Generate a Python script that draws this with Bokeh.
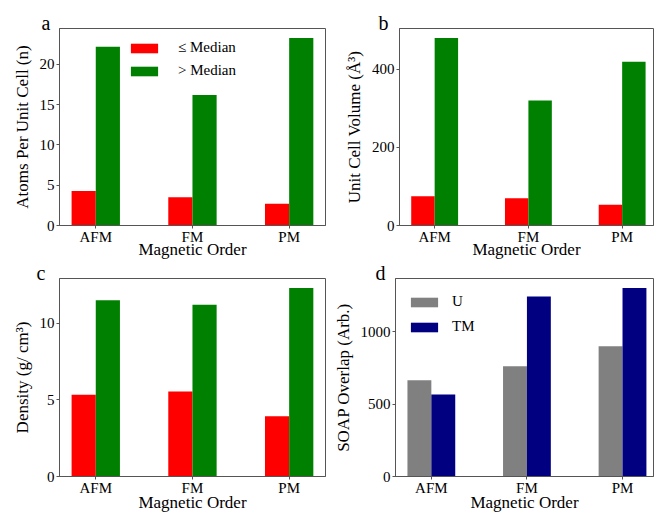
from bokeh.plotting import figure
from bokeh.layouts import column, row
from bokeh.models import FixedTicker, Legend, LegendItem, Range1d, Title
from bokeh.embed import file_html
from bokeh.resources import INLINE

# ---- data ----
categories = ["AFM", "FM", "PM"]
atoms_low = [4.3, 3.5, 2.7]
atoms_high = [22.2, 16.2, 23.3]
volume_low = [75, 70, 53]
volume_high = [480, 320, 419]
density_low = [5.33, 5.55, 3.93]
density_high = [11.5, 11.2, 12.3]
soap_u = [665, 762, 900]
soap_tm = [566, 1243, 1302]

median_labels = ["\u2264 Median", "> Median"]
soap_labels = ["U", "TM"]

atoms_ticks = [0, 5, 10, 15, 20]
volume_ticks = [0, 200, 400]
density_ticks = [0, 5, 10]
soap_ticks = [0, 500, 1000]

FONT = "Liberation Serif"
PX_PER_CAT = 96.7
BAR_W = 0.25
FRAME_COL = "#555555"


def make_panel(letter, letter_dx, low, high, colors, ylabel, yticks,
               w, h, bl, br, bt, bb, xlabel_standoff=-6, legend_labels=None,
               legend_loc=None, legend_standoff=17, legend_spacing=6):
    fw = w - bl - br
    x0 = -0.375
    x1 = x0 + fw / PX_PER_CAT
    ymax = max(max(low), max(high)) * 1.05
    p = figure(width=w, height=h, x_range=Range1d(x0, x1), y_range=Range1d(0, ymax),
               output_backend="svg", toolbar_location=None, title=None,
               min_border_left=bl, min_border_right=br, min_border_top=bt,
               min_border_bottom=bb)
    xs = list(range(len(categories)))
    r1 = p.vbar(x=[i - BAR_W / 2 for i in xs], top=low, width=BAR_W, bottom=0,
                fill_color=colors[0], line_color=None)
    r2 = p.vbar(x=[i + BAR_W / 2 for i in xs], top=high, width=BAR_W, bottom=0,
                fill_color=colors[1], line_color=None)

    p.xgrid.visible = False
    p.ygrid.visible = False
    p.outline_line_color = FRAME_COL
    p.outline_line_width = 1
    p.outline_line_alpha = 1
    p.background_fill_color = "white"
    p.border_fill_color = "white"

    p.xaxis.ticker = FixedTicker(ticks=xs, minor_ticks=[])
    p.xaxis.major_label_overrides = {i: c for i, c in zip(xs, categories)}
    p.yaxis.ticker = FixedTicker(ticks=yticks, minor_ticks=[])
    p.xaxis.axis_label = "Magnetic Order"
    p.yaxis.axis_label = ylabel
    for ax in (p.xaxis[0], p.yaxis[0]):
        ax.axis_line_color = FRAME_COL
        ax.major_tick_line_color = FRAME_COL
        ax.major_tick_out = 3
        ax.major_tick_in = 0
        ax.minor_tick_line_color = None
        ax.major_label_text_font = FONT
        ax.major_label_text_font_size = "15px"
        ax.major_label_text_color = "black"
        ax.axis_label_text_font = FONT
        ax.axis_label_text_font_size = "17px"
        ax.axis_label_text_font_style = "normal"
        ax.axis_label_text_color = "black"
    p.xaxis.major_label_standoff = 0
    p.xaxis.axis_label_standoff = xlabel_standoff
    p.yaxis.major_label_standoff = 2
    p.yaxis.axis_label_standoff = 5

    p.add_layout(Title(text=letter, align="left", offset=letter_dx,
                       standoff=-11, vertical_align="bottom",
                       text_font=FONT, text_font_size="20px",
                       text_font_style="normal", text_color="black"), "above")

    if legend_labels:
        leg = Legend(items=[LegendItem(label=legend_labels[0], renderers=[r1]),
                            LegendItem(label=legend_labels[1], renderers=[r2])],
                     location=legend_loc)
        leg.label_text_font = FONT
        leg.label_text_font_size = "15px"
        leg.label_text_color = "black"
        leg.glyph_width = 34
        leg.glyph_height = 12
        leg.label_height = 12
        leg.label_standoff = legend_standoff
        leg.spacing = legend_spacing
        leg.padding = 0
        leg.margin = 0
        leg.border_line_color = None
        leg.background_fill_alpha = 0
        p.add_layout(leg)
    return p


pa = make_panel("a", -18, atoms_low, atoms_high, ["#ff0000", "#008000"],
                "Atoms Per Unit Cell (n)", atoms_ticks,
                w=341, h=261, bl=59, br=16, bt=28, bb=35, xlabel_standoff=-8,
                legend_labels=median_labels, legend_loc=(68, 146))
pb = make_panel("b", -21, volume_low, volume_high, ["#ff0000", "#008000"],
                "Unit Cell Volume (\u00c5\u00b3)", volume_ticks,
                w=313, h=261, bl=50, br=1, bt=28, bb=35, xlabel_standoff=-8)
pc = make_panel("c", -23, density_low, density_high, ["#ff0000", "#008000"],
                "Density (g/ cm\u00b3)", density_ticks,
                w=330, h=253, bl=59, br=5, bt=17, bb=37)
pd = make_panel("d", -20, soap_u, soap_tm, ["#808080", "#000080"],
                "SOAP Overlap (Arb.)", soap_ticks,
                w=324, h=253, bl=62, br=1, bt=17, bb=37,
                legend_labels=soap_labels, legend_loc=(12, 141),
                legend_standoff=11, legend_spacing=8)

layout = column(row(pa, pb), row(pc, pd))

open("out.html", "w").write(file_html(layout, INLINE))
